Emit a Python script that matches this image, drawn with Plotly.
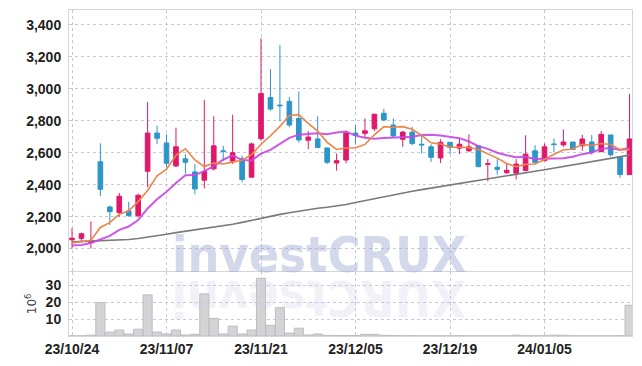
import plotly.graph_objects as go

dates = [
    "2023-10-24", "2023-10-25", "2023-10-26", "2023-10-27", "2023-10-30", "2023-10-31",
    "2023-11-01", "2023-11-02", "2023-11-03", "2023-11-06", "2023-11-07", "2023-11-08",
    "2023-11-09", "2023-11-10", "2023-11-13", "2023-11-14", "2023-11-15", "2023-11-16",
    "2023-11-17", "2023-11-20", "2023-11-21", "2023-11-22", "2023-11-23", "2023-11-24",
    "2023-11-27", "2023-11-28", "2023-11-29", "2023-11-30", "2023-12-01", "2023-12-04",
    "2023-12-05", "2023-12-06", "2023-12-07", "2023-12-08", "2023-12-11", "2023-12-12",
    "2023-12-13", "2023-12-14", "2023-12-15", "2023-12-18", "2023-12-19", "2023-12-20",
    "2023-12-21", "2023-12-22", "2023-12-26", "2023-12-27", "2023-12-28", "2024-01-02",
    "2024-01-03", "2024-01-04", "2024-01-05", "2024-01-08", "2024-01-09", "2024-01-10",
    "2024-01-11", "2024-01-12", "2024-01-15", "2024-01-16", "2024-01-17", "2024-01-18",
]

opens = [2055, 2064, 2038, 2544, 2260, 2225, 2235, 2206, 2484, 2723,
         2661, 2517, 2562, 2480, 2428, 2499, 2612, 2546, 2564, 2447,
         2688, 2945, 2898, 2921, 2814, 2678, 2686, 2630, 2536, 2554,
         2723, 2721, 2750, 2847, 2773, 2684, 2729, 2653, 2637, 2567,
         2665, 2628, 2612, 2643, 2527, 2509, 2474, 2472, 2488, 2612,
         2550, 2655, 2649, 2667, 2643, 2667, 2608, 2711, 2575, 2463]
highs = [2128, 2100, 2169, 2659, 2270, 2348, 2292, 2344, 2917, 2770,
         2715, 2756, 2591, 2529, 2931, 2828, 2643, 2838, 2581, 2663,
         3316, 3123, 3275, 2950, 2983, 2735, 2828, 2630, 2595, 2735,
         2772, 2814, 2841, 2875, 2814, 2735, 2762, 2715, 2653, 2684,
         2665, 2690, 2715, 2643, 2560, 2560, 2529, 2560, 2709, 2647,
         2657, 2688, 2746, 2667, 2711, 2711, 2735, 2711, 2575, 2968]
lows = [2000, 2040, 2000, 2328, 2148, 2200, 2200, 2196, 2385, 2653,
        2509, 2510, 2468, 2340, 2377, 2488, 2550, 2529, 2416, 2441,
        2674, 2863, 2797, 2760, 2663, 2622, 2628, 2529, 2488, 2534,
        2657, 2690, 2735, 2797, 2694, 2637, 2647, 2595, 2542, 2536,
        2591, 2591, 2604, 2509, 2422, 2463, 2468, 2433, 2484, 2529,
        2550, 2602, 2637, 2620, 2612, 2587, 2602, 2575, 2443, 2463]
closes = [2065, 2093, 2050, 2371, 2231, 2328, 2206, 2334, 2723, 2690,
          2534, 2637, 2540, 2373, 2482, 2643, 2608, 2600, 2433, 2655,
          2970, 2873, 2894, 2773, 2680, 2698, 2632, 2540, 2550, 2723,
          2709, 2737, 2841, 2805, 2705, 2729, 2657, 2649, 2571, 2665,
          2632, 2653, 2637, 2513, 2531, 2496, 2490, 2529, 2591, 2540,
          2637, 2651, 2667, 2620, 2686, 2602, 2715, 2587, 2463, 2686]

ma5 = [2035, 2043, 2052, 2132, 2162, 2215, 2237, 2294, 2364, 2456,
       2497, 2584, 2625, 2555, 2513, 2535, 2529, 2541, 2553, 2588,
       2653, 2706, 2765, 2833, 2838, 2784, 2735, 2665, 2620, 2629,
       2631, 2652, 2712, 2763, 2759, 2763, 2747, 2709, 2662, 2654,
       2635, 2634, 2632, 2620, 2593, 2566, 2533, 2512, 2527, 2529,
       2557, 2590, 2617, 2623, 2652, 2645, 2658, 2651, 2619, 2619]
ma10 = [2019, 2023, 2035, 2060, 2080, 2117, 2138, 2179, 2251, 2309,
        2356, 2410, 2459, 2460, 2485, 2516, 2556, 2583, 2554, 2551,
        2594, 2618, 2653, 2693, 2713, 2718, 2721, 2715, 2727, 2733,
        2707, 2694, 2688, 2692, 2694, 2697, 2700, 2711, 2713, 2707,
        2699, 2691, 2670, 2641, 2624, 2600, 2584, 2572, 2574, 2561,
        2562, 2562, 2565, 2575, 2591, 2601, 2624, 2630, 2617, 2631]
ma60 = [2042, 2044, 2046, 2048, 2050, 2053, 2057, 2063, 2071, 2081,
        2090, 2100, 2108, 2116, 2124, 2132, 2141, 2152, 2164, 2177,
        2190, 2203, 2214, 2224, 2234, 2244, 2252, 2259, 2266, 2276,
        2288, 2300, 2312, 2325, 2338, 2349, 2359, 2369, 2379, 2389,
        2398, 2408, 2418, 2428, 2437, 2446, 2456, 2465, 2475, 2484,
        2493, 2503, 2513, 2523, 2533, 2543, 2553, 2563, 2574, 2585]

volumes = [0.1, 0.1, 0.5, 19.6, 2.3, 3.5, 1.2, 4.0, 24.2, 2.3,
           1.2, 3.5, 0.6, 1.0, 24.8, 10.4, 1.2, 5.8, 1.2, 3.5,
           34.0, 6.3, 16.7, 1.7, 4.6, 0.6, 1.2, 0.4, 0.3, 0.3,
           0.3, 1.0, 1.0, 0.4, 0.3, 0.2, 0.2, 0.1, 0.1, 0.1,
           0.1, 0.2, 0.1, 0.1, 0.2, 0.1, 0.1, 0.5, 0.2, 0.2,
           0.2, 0.5, 0.4, 0.2, 0.1, 0.1, 0.2, 0.1, 0.2, 18.1]

tick_idx = [0, 10, 20, 30, 40, 50]
tick_text = [dates[i][2:].replace("-", "/") for i in tick_idx]
price_ticks = [2000, 2200, 2400, 2600, 2800, 3000, 3200, 3400]
vol_ticks = [10, 20, 30]

x = list(range(len(dates)))

RED = "#e0186a"
BLUE = "#2e95c8"
GRID = "#c6c9dc"
FRAME = "#d4d4dc"
TICKFONT = dict(family="Liberation Sans, Arial, sans-serif", size=14,
                color="#222222", weight="bold")
WMFONT = "DejaVu Sans Condensed, Liberation Sans, sans-serif"

fig = go.Figure()

fig.add_trace(go.Candlestick(
    x=x, open=opens, high=highs, low=lows, close=closes,
    increasing=dict(line=dict(color=RED, width=1), fillcolor=RED),
    decreasing=dict(line=dict(color=BLUE, width=1), fillcolor=BLUE),
    whiskerwidth=0, xaxis="x", yaxis="y", showlegend=False,
))
fig.add_trace(go.Scatter(x=x, y=ma60, mode="lines", line=dict(color="#7a7a7a", width=1.6),
                         xaxis="x", yaxis="y", showlegend=False))
fig.add_trace(go.Scatter(x=x, y=ma10, mode="lines", line=dict(color="rgba(200,70,230,0.9)", width=2),
                         xaxis="x", yaxis="y", showlegend=False))
fig.add_trace(go.Scatter(x=x, y=ma5, mode="lines", line=dict(color="#ee8448", width=1.6),
                         xaxis="x", yaxis="y", showlegend=False))
fig.add_trace(go.Bar(x=x, y=volumes, marker=dict(color="rgba(205,205,208,0.85)",
                                                 line=dict(color="#bdbdc2", width=1)),
                     xaxis="x2", yaxis="y2", showlegend=False))

common_x = dict(range=[-0.32, 59.26], tickmode="array", tickvals=tick_idx,
                showgrid=True, gridcolor=GRID, griddash="dot", gridwidth=1,
                zeroline=False, showline=True, mirror=True, linecolor=FRAME, linewidth=1)

fig.update_layout(
    width=642, height=366,
    margin=dict(l=69, r=10, t=9, b=29),
    paper_bgcolor="white", plot_bgcolor="white",
    bargap=0.04, boxgap=0.3,
    xaxis=dict(domain=[0, 1], anchor="y", showticklabels=False,
               rangeslider=dict(visible=False), **common_x),
    xaxis2=dict(domain=[0, 1], anchor="y2", matches="x", ticktext=tick_text,
                tickfont=TICKFONT, ticks="", **common_x),
    yaxis=dict(domain=[0.199, 1], range=[1859, 3493], tickvals=price_ticks,
               tickformat=",d", tickfont=TICKFONT, showgrid=True, gridcolor=GRID,
               griddash="dot", zeroline=False, showline=True, mirror=True,
               linecolor=FRAME, ticks="outside", ticklen=4, tickcolor="white"),
    yaxis2=dict(domain=[0, 0.197], range=[0, 37.8], tickvals=vol_ticks,
                tickfont=TICKFONT, showgrid=True, gridcolor=GRID, griddash="dot",
                zeroline=False, showline=True, mirror=True, linecolor=FRAME,
                ticks="outside", ticklen=4, tickcolor="white",
                title=dict(text="10<sup>6</sup>", standoff=6,
                           font=dict(family="DejaVu Sans, sans-serif", size=12, color="#444"))),
    annotations=[
        dict(text="investCRUX", xref="paper", yref="paper", x=0.444, y=0.25,
             xanchor="center", yanchor="middle", showarrow=False,
             font=dict(family=WMFONT, size=50,
                       color="rgba(150,165,205,0.42)", weight="bold")),
        dict(text="XURCtsevni", xref="paper", yref="paper", x=0.444, y=0.115,
             xanchor="center", yanchor="middle", showarrow=False, textangle=180,
             font=dict(family=WMFONT, size=50,
                       color="rgba(200,200,225,0.26)", weight="bold")),
    ],
)

fig.write_html("out.html", config={"displayModeBar": False},
               post_script="document.body.style.margin='0';")
